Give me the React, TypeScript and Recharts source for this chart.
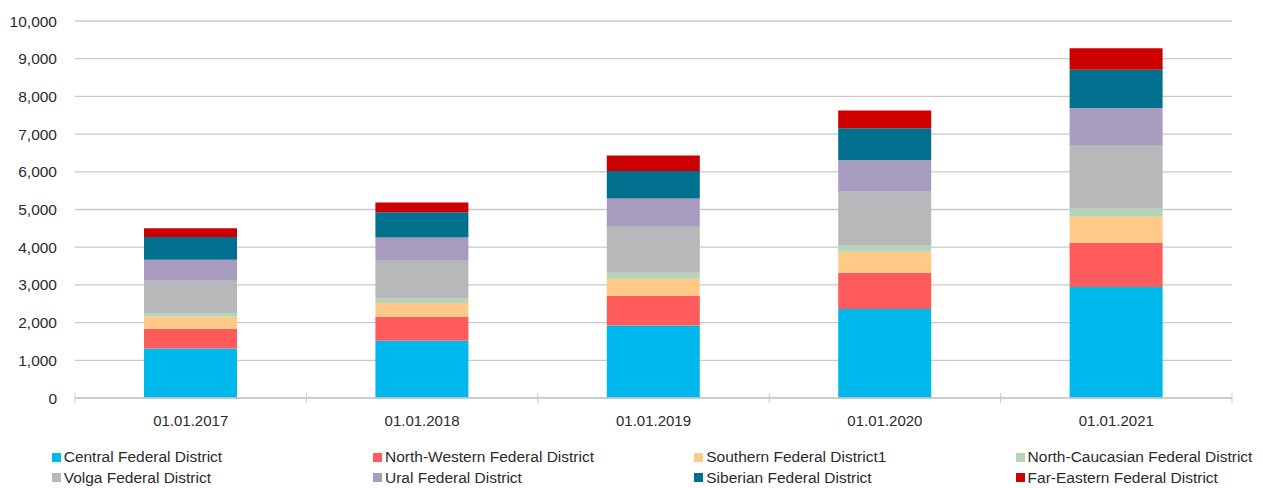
import React from 'react';
import { BarChart, Bar, XAxis, YAxis, CartesianGrid, Legend } from 'recharts';

const categories = ['01.01.2017', '01.01.2018', '01.01.2019', '01.01.2020', '01.01.2021'];
const central = [1315, 1519, 1925, 2359, 2942];
const northWestern = [522, 636, 786, 962, 1174];
const southern = [318, 363, 451, 557, 689];
const northCaucasian = [98, 114, 158, 159, 212];
const volga = [856, 1007, 1220, 1431, 1696];
const ural = [557, 618, 750, 840, 981];
const siberian = [604, 673, 734, 848, 1016];
const farEastern = [235, 254, 406, 467, 566];
const yTicks = [0, 1000, 2000, 3000, 4000, 5000, 6000, 7000, 8000, 9000, 10000];

const seriesNames = [
  'Central Federal District',
  'North-Western Federal District',
  'Southern Federal District1',
  'North-Caucasian Federal District',
  'Volga Federal District',
  'Ural Federal District',
  'Siberian Federal District',
  'Far-Eastern Federal District',
];
const seriesValues = [central, northWestern, southern, northCaucasian, volga, ural, siberian, farEastern];
const seriesColors = ['#00B9EC', '#FF5B5B', '#FFCA87', '#B6D4B7', '#B7B8B9', '#A79BBE', '#00708E', '#CC0000'];

const data = categories.map((c, i) => {
  const row: Record<string, string | number> = { name: c };
  seriesNames.forEach((s, k) => {
    row[s] = seriesValues[k][i];
  });
  return row;
});

const W = 1263;
const H = 488;
const FONT = '"Liberation Sans", Arial, sans-serif';
const AXIS_COLOR = '#c9c9c9';
const TEXT_COLOR = '#2b2b2b';
const PLOT_LEFT = 75;
const PLOT_RIGHT_MARGIN = 31;
const bandHalfFallback = (W - PLOT_LEFT - PLOT_RIGHT_MARGIN) / categories.length / 2;

const XTick = (props: any) => {
  const { x, y, payload, index } = props;
  const half = payload && typeof payload.offset === 'number' && payload.offset > 0 ? payload.offset : bandHalfFallback;
  const last = index === categories.length - 1;
  return (
    <g>
      <line x1={x - half} x2={x - half} y1={y - 5} y2={y + 5} stroke={AXIS_COLOR} strokeWidth={1} />
      {last && <line x1={x + half} x2={x + half} y1={y - 5} y2={y + 5} stroke={AXIS_COLOR} strokeWidth={1} />}
      <text x={x} y={y + 17} dy="0.71em" textAnchor="middle" fill={TEXT_COLOR} fontSize={15} fontFamily={FONT}>
        {payload.value}
      </text>
    </g>
  );
};

const renderLegend = () => (
  <div
    style={{
      display: 'grid',
      gridTemplateColumns: 'repeat(4, 321.3px)',
      paddingLeft: 51.7,
      paddingTop: 1,
      fontFamily: FONT,
      fontSize: 15.5,
      color: TEXT_COLOR,
    }}
  >
    {seriesNames.map((name, k) => (
      <div key={name} style={{ display: 'flex', alignItems: 'center', height: 20.5, whiteSpace: 'nowrap' }}>
        <span style={{ display: 'inline-block', width: 9, height: 9, background: seriesColors[k], marginRight: 3 }} />
        <span>{name}</span>
      </div>
    ))}
  </div>
);

export default function App() {
  return (
    <div style={{ position: 'absolute', left: 0, top: 0, width: W, height: H, background: '#fff' }}>
      <BarChart
        width={W}
        height={H}
        data={data}
        margin={{ top: 21, right: PLOT_RIGHT_MARGIN, left: 0, bottom: 0 }}
        barSize={93}
      >
        <CartesianGrid vertical={false} stroke={AXIS_COLOR} strokeWidth={1.3} />
        <XAxis
          dataKey="name"
          tick={<XTick />}
          tickLine={false}
          tickSize={0}
          tickMargin={0}
          axisLine={{ stroke: AXIS_COLOR, strokeWidth: 1.3 }}
          height={48}
          interval={0}
        />
        <YAxis
          width={PLOT_LEFT}
          domain={[0, 10000]}
          ticks={yTicks}
          tickLine={false}
          axisLine={false}
          tickSize={0}
          tickMargin={18}
          tickFormatter={(v: number) => v.toLocaleString('en-US')}
          tick={{ fill: TEXT_COLOR, fontSize: 15.5, fontFamily: FONT }}
          interval={0}
        />
        <Legend
          verticalAlign="bottom"
          height={42}
          content={renderLegend}
          wrapperStyle={{ left: 0, width: W }}
        />
        {seriesNames.map((s, k) => (
          <Bar key={s} dataKey={s} stackId="a" fill={seriesColors[k]} isAnimationActive={false} />
        ))}
      </BarChart>
    </div>
  );
}
